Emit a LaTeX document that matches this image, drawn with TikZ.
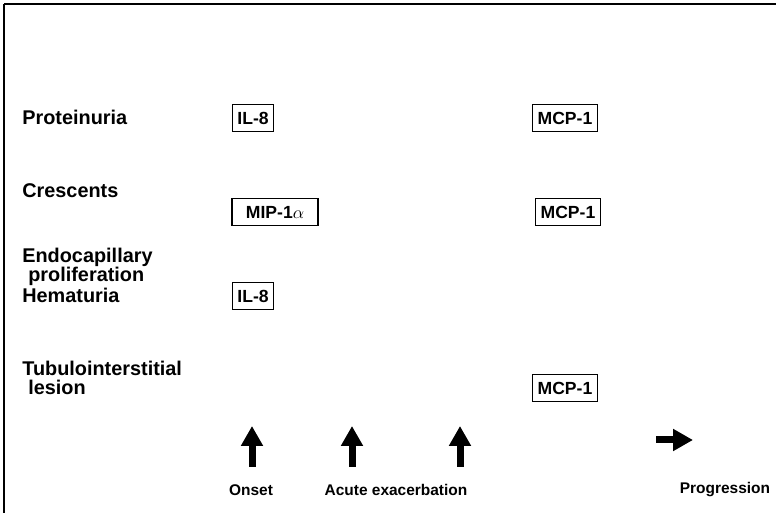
\documentclass[tikz,border=0pt]{standalone}
\usepackage{fontspec}
\setmainfont{Liberation Sans}
\usepackage{tikz}
\usetikzlibrary{arrows.meta}
\tikzstyle{frame}=[-,line width=1.1pt]
\tikzstyle{finding}=[anchor=west,align=left,inner sep=0pt,font=\fontsize{11.3}{10.8}\selectfont\bfseries]
\tikzstyle{chemokine}=[rectangle,draw=black,line width=0.6pt,inner xsep=0.1cm,minimum height=0.54cm,font=\fontsize{10}{11}\selectfont\bfseries]
\tikzstyle{phase}=[inner sep=0pt,font=\fontsize{8.8}{10}\selectfont\bfseries]
\tikzstyle{bigarrow}=[-{Triangle[width=0.42cm,length=0.4cm]},line width=0.14cm]
\tikzstyle{none}=[inner sep=0pt]
\pgfdeclarelayer{edgelayer}
\pgfdeclarelayer{nodelayer}
\pgfsetlayers{edgelayer,nodelayer,main}
\begin{document}
\begin{tikzpicture}
	\useasboundingbox (0,0) rectangle (15.52,-10.26);
	\begin{pgfonlayer}{nodelayer}
		\node [style=finding] (prot) at (0.44, -2.34) {Proteinuria};
		\node [style=finding] (cresc) at (0.44, -3.82) {Crescents};
		\node [style=finding] (endo) at (0.44, -5.34) {Endocapillary\\\hspace{0.12cm}proliferation};
		\node [style=finding] (hema) at (0.44, -5.90) {Hematuria};
		\node [style=finding] (tubu) at (0.44, -7.56) {Tubulointerstitial\\\hspace{0.12cm}lesion};

		\node [style=chemokine] (il8a) at (5.06, -2.36) {IL-8};
		\node [style=chemokine] (mcpa) at (11.30, -2.36) {MCP-1};
		\node [style=chemokine, minimum width=1.72cm] (mip) at (5.50, -4.24) {MIP-1$\alpha$};
		\node [style=chemokine] (mcpb) at (11.36, -4.24) {MCP-1};
		\node [style=chemokine] (il8b) at (5.06, -5.92) {IL-8};
		\node [style=chemokine] (mcpc) at (11.30, -7.76) {MCP-1};

		\node [style=phase] (onset) at (5.02, -9.80) {Onset};
		\node [style=phase] (acute) at (7.92, -9.80) {Acute exacerbation};
		\node [style=phase] (prog) at (14.50, -9.80) {Progression};

		% arrow ends
		\coordinate (a1) at (5.04, -9.34);
		\coordinate (b1) at (5.04, -8.52);
		\coordinate (a2) at (7.04, -9.34);
		\coordinate (b2) at (7.04, -8.52);
		\coordinate (a3) at (9.20, -9.34);
		\coordinate (b3) at (9.20, -8.52);
		\coordinate (a4) at (13.12, -8.80);
		\coordinate (b4) at (13.86, -8.80);

		\coordinate (fbl) at (0.08, -10.26);
		\coordinate (ftl) at (0.08, -0.08);
		\coordinate (ftr) at (15.52, -0.08);
	\end{pgfonlayer}
	\begin{pgfonlayer}{edgelayer}
		\draw [style=bigarrow] (a1) to (b1);
		\draw [style=bigarrow] (a2) to (b2);
		\draw [style=bigarrow] (a3) to (b3);
		\draw [style=bigarrow] (a4) to (b4);
		\draw [style=frame] (fbl) to (ftl);
		\draw [style=frame] (ftl) to (ftr);
	\end{pgfonlayer}
\end{tikzpicture}
\end{document}
